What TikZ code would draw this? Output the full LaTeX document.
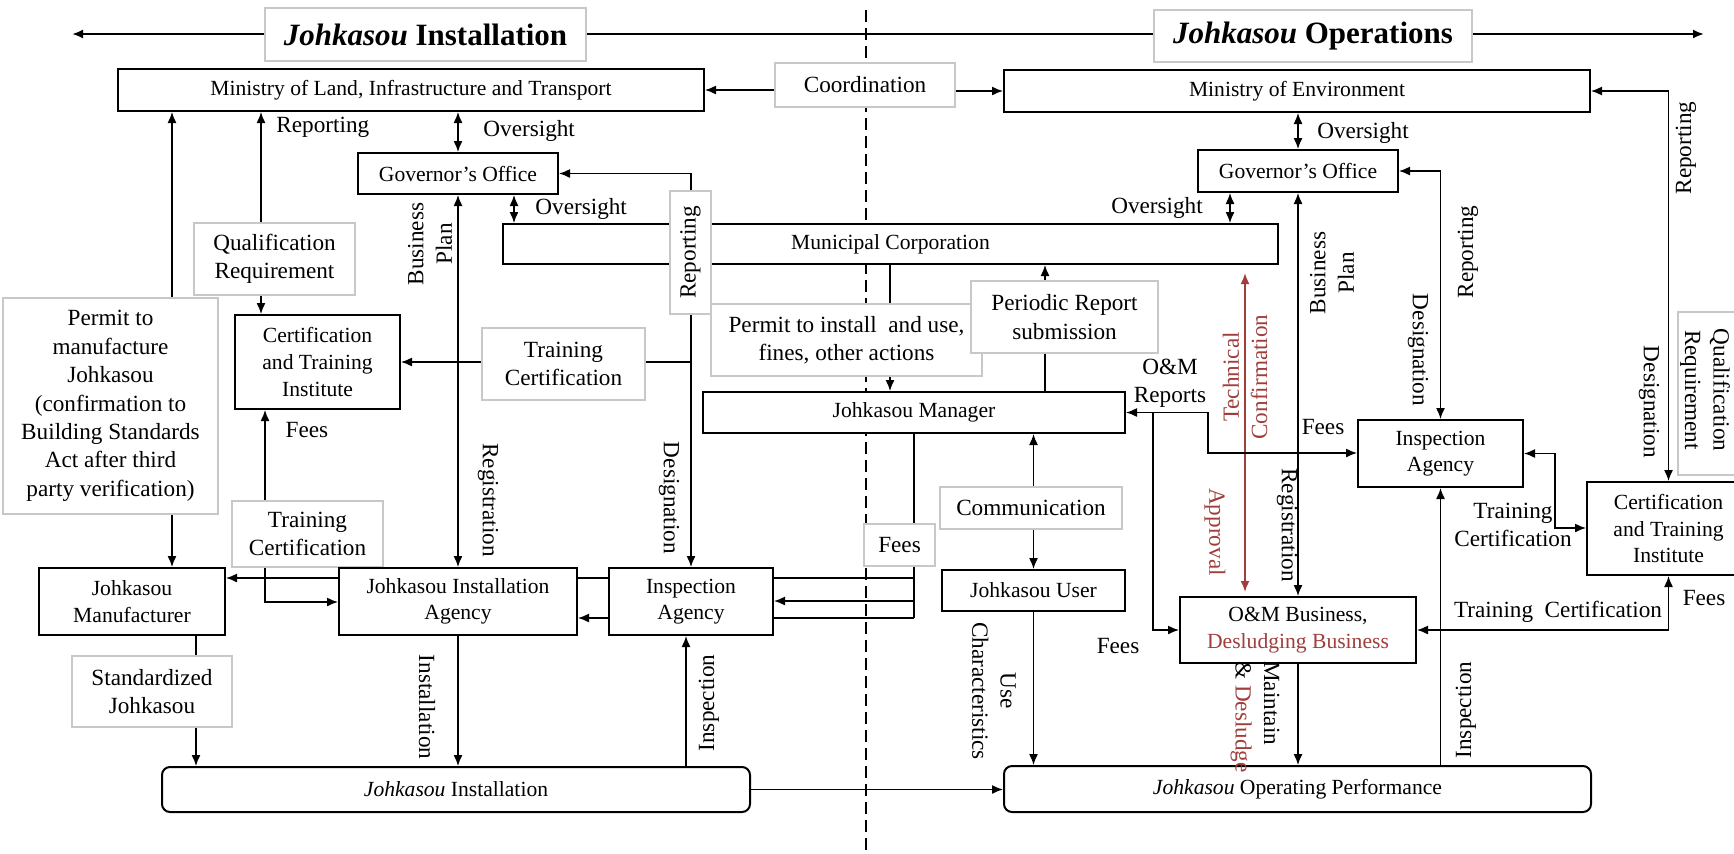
\documentclass[tikz,border=0pt]{standalone}
\usepackage{fontspec}
\setmainfont{Liberation Serif}
\usetikzlibrary{arrows.meta,backgrounds}
\definecolor{dred}{RGB}{160,62,60}
\definecolor{lgray}{RGB}{200,200,200}
\newcommand\myboxfont{\fontsize{10.8}{13.3}\selectfont}
\newcommand\mylabelfont{\fontsize{11.6}{14.2}\selectfont}
\newcommand\mytitlefont{\fontsize{15.5}{18}\selectfont\bfseries}
\begin{document}
\begin{tikzpicture}[x=0.5pt,y=-0.5pt,
  >={Latex[length=5.5pt,width=4.5pt]},
  area/.style n args={4}{at={({(#1+#3)/2},{(#2+#4)/2})},
    minimum width={(#3-#1)*0.5pt}, minimum height={(#4-#2)*0.5pt}},
  conn/.style={line width=0.7pt},
  box/.style={draw, line width=1pt, fill=white, inner sep=0pt, font=\myboxfont, align=center},
  rbox/.style={box, rounded corners=4pt},
  lbl/.style={draw=lgray, line width=0.6pt, fill=white, inner sep=0pt, font=\mylabelfont, align=center},
  ttl/.style={draw=lgray, line width=0.6pt, fill=white, inner sep=0pt, font=\mytitlefont},
  txt/.style={inner sep=0pt, font=\mylabelfont, align=center},
  divider/.style={line width=1.2pt, dash pattern=on 6pt off 3pt}]
\useasboundingbox (0,0) rectangle (1734,853);

% ---- section titles
\node[ttl, area={265}{8}{586}{61}] (tL) {\textit{Johkasou} Installation};
\node[ttl, area={1154}{10}{1472}{62}] (tR) {\textit{Johkasou} Operations};

% ---- authorities
\node[box, area={118}{69}{704}{111}] (MLIT) {Ministry of Land, Infrastructure and Transport};
\node[lbl, area={775}{63}{955}{107}] (Coord) {Coordination};
\node[box, area={1004}{70}{1590}{112}] (MoE) {Ministry of Environment};
\node[box, area={358}{153}{558}{194}] (GovL) {Governor’s Office};
\node[box, area={1198}{150}{1398}{192}] (GovR) {Governor’s Office};
\node[box, area={503}{224}{1278}{264}] (MC) {Municipal Corporation};

% ---- installation side
\node[lbl, area={194}{223}{355}{295}] (QualL) {Qualification\\Requirement};
\node[box, area={235}{315}{400}{409}] (CTIL) {Certification\\and Training\\Institute};
\node[lbl, area={482}{328}{645}{400}] (TCa) {Training\\Certification};
\node[lbl, area={670}{191}{711}{314}] (RepBox) {};
\node[txt, rotate=90] (RepTxt) at (RepBox.center) {Reporting};
\node[lbl, area={3}{298}{218}{514}] (PermMfg) {Permit to\\manufacture\\Johkasou\\(confirmation to\\Building Standards\\Act after third\\party verification)};
\node[lbl, area={232}{501}{383}{567}] (TCb) {Training\\Certification};
\node[box, area={39}{568}{225}{635}] (Mfr) {Johkasou\\Manufacturer};
\node[box, area={339}{568}{577}{635}] (JIA) {Johkasou Installation\\Agency};
\node[box, area={609}{568}{773}{635}] (IAL) {Inspection\\Agency};
\node[lbl, area={72}{656}{232}{727}] (StdJ) {Standardized\\Johkasou};
\node[rbox, area={162}{767}{750}{812}] (JI) {\textit{Johkasou} Installation};

% ---- management / operations side
\node[lbl, area={711}{304}{982}{376}] (PermUse) {Permit to install\ \ and use,\\fines, other actions};
\node[lbl, area={971}{281}{1158}{353}] (Periodic) {Periodic Report\\submission};
\node[box, area={703}{392}{1125}{433}] (Mgr) {Johkasou Manager};
\node[lbl, area={864}{524}{935}{566}] (FeesM) {Fees};
\node[lbl, area={940}{487}{1122}{529}] (Comm) {Communication};
\node[box, area={942}{570}{1125}{611}] (User) {Johkasou User};
\node[rbox, area={1004}{766}{1591}{812}] (JOP) {\textit{Johkasou} Operating Performance};
\node[box, area={1180}{597}{1416}{663}] (OM) {O\&M Business,\\\textcolor{dred}{Desludging Business}};
\node[box, area={1358}{420}{1523}{487}] (IAR) {Inspection\\Agency};
\node[box, area={1587}{482}{1750}{575}] (CTIR) {Certification\\and Training\\Institute};
\node[lbl, area={1678}{312}{1745}{475}] (QualR) {};
\node[txt, rotate=-90] (QualRTxt) at (1705,390) {Qualification\\Requirement};

% ---- connector labels
\node[txt, anchor=west] (l1) at (276,127) {Reporting};
\node[txt, anchor=west] (l2) at (483,131) {Oversight};
\node[txt, anchor=west] (l3) at (535,209) {Oversight};
\node[txt, rotate=90] (l4) at (430,244) {Business\\Plan};
\node[txt, rotate=-90] (l5) at (488,500) {Registration};
\node[txt, rotate=-90] (l6) at (669,498) {Designation};
\node[txt] (l7) at (307,430) {Fees};
\node[txt, rotate=-90] (l8) at (427,707) {Installation};
\node[txt, rotate=90] (l9) at (709,703) {Inspection};
\node[txt] (l10) at (1363,133) {Oversight};
\node[txt] (l11) at (1157,208) {Oversight};
\node[txt, rotate=90] (l12) at (1332,273) {Business\\Plan};
\node[txt, rotate=-90] (l13) at (1287,525) {Registration};
\node[txt, rotate=90] (l14) at (1468,252) {Reporting};
\node[txt, rotate=-90] (l15) at (1418,350) {Designation};
\node[txt, rotate=90] (l16) at (1686,148) {Reporting};
\node[txt, rotate=-90] (l17) at (1649,402) {Designation};
\node[txt, rotate=90, text=dred] (l18) at (1245,377) {Technical\\Confirmation};
\node[txt, rotate=-90, text=dred] (l19) at (1215,532) {Approval};
\node[txt] (l20) at (1170,383) {O\&M\\Reports};
\node[txt] (l21) at (1323,427) {Fees};
\node[txt] (l22) at (1118,646) {Fees};
\node[txt] (l23) at (1513,525) {Training\\Certification};
\node[txt] (l24) at (1558,612) {Training\ \ Certification};
\node[txt] (l25) at (1704,598) {Fees};
\node[txt, rotate=-90] (l26) at (994,691) {Use\\Characteristics};
\node[txt, rotate=-90, align=left] (l27) at (1255,717) {Maintain\\\& \textcolor{dred}{Desludge}};
\node[txt, rotate=90] (l28) at (1466,710) {Inspection};

\coordinate (tl) at (72,34);
\coordinate (tr) at (1704,34);
\coordinate (dtop) at (866,10);
\coordinate (dbot) at (866,853);

\begin{scope}[on background layer]
  % divider and section arrow
  \draw[divider] (dtop) -- (dbot);
  \draw[line width=1pt,<->] (tl) -- (tr);

  % coordination between ministries
  \draw[conn,->] (Coord.west |- MLIT.east) -- (MLIT.east);
  \draw[conn,->] (Coord.east |- MoE.west) -- (MoE.west);

  % installation side
  \draw[conn,<->] (GovL.north) -- (GovL.north |- MLIT.south);
  \draw[conn,<->] (MC.north -| 514,0) -- (GovL.south -| 514,0);
  \draw[conn,<->] (GovL.east) -- (GovL.east -| IAL.north) -- (IAL.north);
  \draw[conn,->] (IAL.north |- CTIL.east) -- (CTIL.east);
  \draw[conn,<->] (MLIT.south -| 172,0) -- (Mfr.north -| 172,0);
  \draw[conn,<->] (MLIT.south -| 261,0) -- (CTIL.north -| 261,0);
  \draw[conn,<->] (CTIL.south -| 265,0) -- (265,602) -- (JIA.west |- 0,602);
  \draw[conn] (Mgr.south -| 914,0) -- (914,618);
  \draw[conn,->] (914,578) -- (Mfr.east |- 0,578);
  \draw[conn,->] (914,601) -- (IAL.east |- 0,601);
  \draw[conn,->] (914,618) -- (JIA.east |- 0,618);
  \draw[conn,<->] (GovL.south) -- (JIA.north);
  \draw[conn,->] (Mfr.south -| 196,0) -- (JI.north -| 196,0);
  \draw[conn,->] (JIA.south) -- (JI.north -| JIA.south);
  \draw[conn,->] (JI.north -| 686,0) -- (IAL.south -| 686,0);
  \draw[conn,->] (JI.east) -- (JOP.west |- JI.east);

  % manager and user
  \draw[conn,->] (MC.south -| 890,0) -- (Mgr.north -| 890,0);
  \draw[conn,->] (Mgr.north -| 1045,0) -- (MC.south -| 1045,0);
  \draw[conn,<->] (Mgr.south -| User.north) -- (User.north);
  \draw[conn,->] (User.south) -- (JOP.north -| User.south);

  % operations side
  \draw[conn,<->] (MoE.south -| GovR.north) -- (GovR.north);
  \draw[conn,<->] (GovR.south -| 1230,0) -- (MC.north -| 1230,0);
  \draw[conn,<->] (GovR.south) -- (OM.north);
  \draw[line width=0.9pt,<->,dred,shorten <=4pt,shorten >=2pt] (MC.south -| 1245,0) -- (OM.north -| 1245,0);
  \draw[conn,<->] (Mgr.east) -- (Mgr.east -| 1208,0) -- (1208,453) -- (IAR.west |- 0,453);
  \draw[conn,->] (1153,0 |- Mgr.east) -- (1153,630) -- (OM.west);
  \draw[conn,<->] (GovR.east) -- (GovR.east -| IAR.north) -- (IAR.north);
  \draw[conn,<->] (IAR.east) -- (IAR.east -| 1555,0) -- (1555,528) -- (CTIR.west |- 0,528);
  \draw[conn,->] (JOP.north -| IAR.south) -- (IAR.south);
  \draw[conn,<->] (MoE.east) -- (MoE.east -| CTIR.north) -- (CTIR.north);
  \draw[conn,<->] (CTIR.south) -- (CTIR.south |- OM.east) -- (OM.east);
  \draw[conn,->] (OM.south) -- (JOP.north -| OM.south);
\end{scope}
\end{tikzpicture}
\end{document}
